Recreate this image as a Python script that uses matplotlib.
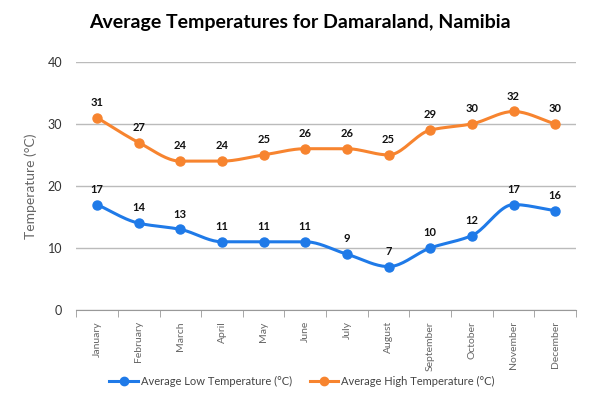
import numpy as np
import matplotlib as mpl
import matplotlib.pyplot as plt

mpl.use('agg')

months = ['January', 'February', 'March', 'April', 'May', 'June', 'July',
          'August', 'September', 'October', 'November', 'December']
low_temps = [17, 14, 13, 11, 11, 11, 9, 7, 10, 12, 17, 16]
high_temps = [31, 27, 24, 24, 25, 26, 26, 25, 29, 30, 32, 30]
yticks = [0, 10, 20, 30, 40]

blue = '#1f7ae8'
orange = '#f7842f'

plt.rcParams['font.family'] = ['Lato', 'DejaVu Sans']


def smooth(y, n=20):
    # monotone cubic (Fritsch-Carlson) through the points
    y = np.asarray(y, dtype=float)
    x = np.arange(len(y), dtype=float)
    d = np.diff(y)
    m = np.zeros_like(y)
    m[0], m[-1] = d[0], d[-1]
    for i in range(1, len(y) - 1):
        if d[i - 1] * d[i] > 0:
            m[i] = 2.0 / (1.0 / d[i - 1] + 1.0 / d[i])
    xs, ys = [], []
    for i in range(len(y) - 1):
        t = np.linspace(0, 1, n, endpoint=False)
        h00 = 2 * t**3 - 3 * t**2 + 1
        h10 = t**3 - 2 * t**2 + t
        h01 = -2 * t**3 + 3 * t**2
        h11 = t**3 - t**2
        xs.append(x[i] + t)
        ys.append(h00 * y[i] + h10 * m[i] + h01 * y[i + 1] + h11 * m[i + 1])
    xs.append([x[-1]])
    ys.append([y[-1]])
    return np.concatenate(xs), np.concatenate(ys)


fig = plt.figure(figsize=(6.0, 3.99), dpi=100)
ax = fig.add_axes([0.127, 0.223, 0.833, 0.622])

x = np.arange(len(months))
for vals, col, lab in [(low_temps, blue, 'Average Low Temperature (°C)'),
                       (high_temps, orange, 'Average High Temperature (°C)')]:
    sx, sy = smooth(vals)
    ax.plot(sx, sy, color=col, lw=2.2, zorder=3)
    ax.plot(x, vals, 'o', color=col, ms=6.5, zorder=4)
    ax.plot([], [], color=col, lw=2.2, marker='o', ms=6, label=lab)
    for xi, v in zip(x, vals):
        ax.annotate(str(v), (xi, v), xytext=(0, 7), textcoords='offset points',
                    ha='center', va='bottom', fontsize=8, fontweight='bold',
                    color='#111111')

ax.set_xlim(-0.5, len(months) - 0.5)
ax.set_ylim(0, 40)
ax.set_yticks(yticks)
ax.set_xticks(x)
ax.set_xticklabels(months, rotation=90, fontsize=7.5, color='#666666')
ax.set_xticks(np.arange(-0.5, len(months)), minor=True)
ax.tick_params(axis='x', which='major', length=0, pad=8)
ax.tick_params(axis='x', which='minor', length=5, color='#999999')
ax.tick_params(axis='y', length=0, labelsize=9, labelcolor='#333333', pad=10)
ax.grid(axis='y', color='#bbbbbb', lw=1)
ax.set_axisbelow(True)
for s in ['top', 'right', 'left']:
    ax.spines[s].set_visible(False)
ax.spines['bottom'].set_color('#999999')
ax.set_ylabel('Temperature (°C)', fontsize=10, color='#666666', labelpad=8)

fig.suptitle('Average Temperatures for Damaraland, Namibia', x=0.5, y=0.965,
             fontsize=14, fontweight='bold')

fig.legend(loc='center', bbox_to_anchor=(0.503, 0.045), ncol=2, frameon=False,
           fontsize=8, labelcolor='#444444', handlelength=2.6, handletextpad=0.2,
           columnspacing=1.6)

plt.savefig('out.png')
